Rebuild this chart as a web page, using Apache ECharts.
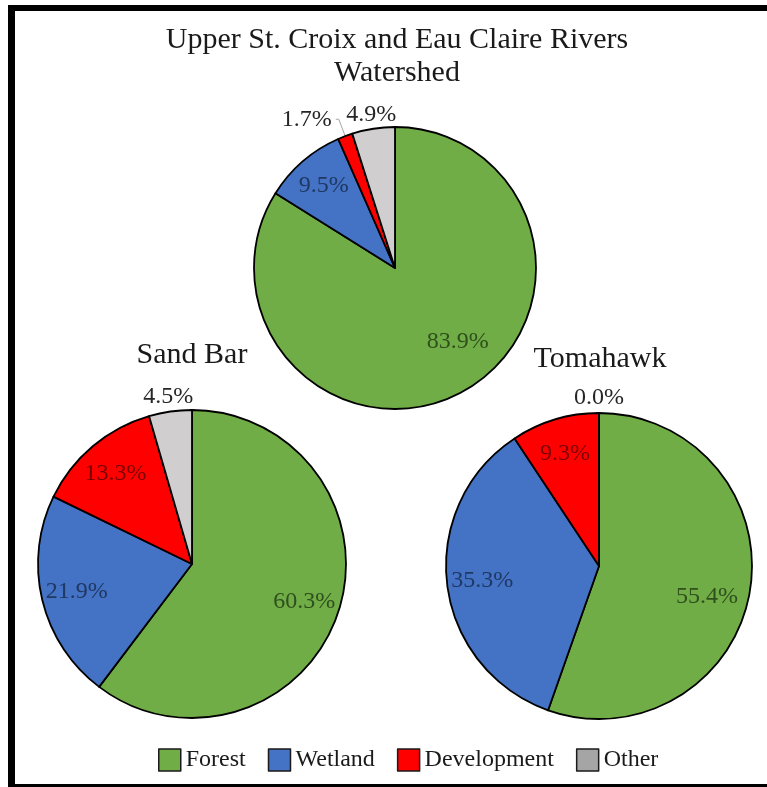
<!DOCTYPE html>
<html>
<head>
<meta charset="utf-8">
<script src="https://cdn.jsdelivr.net/npm/echarts@6/dist/echarts.min.js"></script>
<style>
html,body{margin:0;padding:0;background:#fff;overflow:hidden}
#chart{position:absolute;left:0;top:0;width:767px;height:787px}
#frame{position:absolute;left:8px;top:5px;width:800px;height:785px;box-sizing:border-box;border-style:solid;border-color:#000;border-width:6px 0 6px 7px;pointer-events:none}
</style>
</head>
<body>
<div id="chart"></div>
<div id="frame"></div>
<script>
// ---- data ----
const categories = ['Forest', 'Wetland', 'Development', 'Other'];
const pieTitles = ['Upper St. Croix and Eau Claire Rivers\nWatershed', 'Sand Bar', 'Tomahawk'];
const upperValues = [83.9, 9.5, 1.7, 4.9];
const sandBarValues = [60.3, 21.9, 13.3, 4.5];
const tomahawkValues = [55.4, 35.3, 9.3, 0.0];

// ---- styles ----
const sliceColors = ['#70ad47', '#4472c4', '#ff0000', '#d0cece'];
const legendColors = ['#70ad47', '#4472c4', '#ff0000', '#a5a5a5'];
const insideLabelColors = ['#2f4f1c', '#1f3864', '#7a0000', '#262626'];
const FONT = '"Liberation Serif", "Times New Roman", serif';

const layouts = [
  { values: upperValues, center: [395, 268], r: 141, titleX: 397, titleY: 24,
    placement: { Development: 'leader', Other: 'ring' }, nudge: { Forest: [10, -21] } },
  { values: sandBarValues, center: [192, 564], r: 154, titleX: 192, titleY: 339,
    placement: { Other: 'ring' }, nudge: {} },
  { values: tomahawkValues, center: [599, 566], r: 153, titleX: 600, titleY: 343,
    placement: { Other: 'ring' }, nudge: { Forest: [-8, 11] } }
];

const fmt = p => Number(p.value).toFixed(1) + '%';

const series = [];
const titles = [];
layouts.forEach((L, i) => {
  titles.push({
    text: pieTitles[i], left: L.titleX, top: L.titleY, textAlign: 'center', padding: 0,
    textStyle: { fontFamily: FONT, fontSize: 30, fontWeight: 'normal', color: '#1a1a1a', lineHeight: 33 }
  });
  // main pie (slices) + leader-line labels
  series.push({
    type: 'pie', name: pieTitles[i], center: L.center, radius: [0, L.r],
    startAngle: 90, clockwise: true, avoidLabelOverlap: false, silent: true,
    itemStyle: { borderColor: '#000', borderWidth: 1.8 },
    label: { position: 'outside', fontFamily: FONT, fontSize: 24, color: '#262626',
      formatter: fmt, distanceToLabelLine: 4 },
    labelLine: { length: 18, length2: 3, lineStyle: { color: '#a6a6a6', width: 1 } },
    emphasis: { disabled: true },
    data: categories.map((c, k) => ({
      name: c, value: L.values[k],
      itemStyle: { color: sliceColors[k] },
      label: { show: L.placement[c] === 'leader' },
      labelLine: { show: L.placement[c] === 'leader' }
    }))
  });
  // inside labels
  series.push({
    type: 'pie', center: L.center, radius: [L.r * 0.5, L.r],
    startAngle: 90, clockwise: true, avoidLabelOverlap: false, silent: true,
    itemStyle: { color: 'transparent', borderWidth: 0 },
    label: { position: 'inside', fontFamily: FONT, fontSize: 24, formatter: fmt },
    labelLine: { show: false },
    emphasis: { disabled: true },
    labelLayout: (params) => {
      const n = L.nudge[categories[params.dataIndex]];
      return n ? { dx: n[0], dy: n[1] } : {};
    },
    data: categories.map((c, k) => ({
      name: c, value: L.values[k],
      label: { show: !L.placement[c], color: insideLabelColors[k] }
    }))
  });
  // ring labels just outside the pie
  series.push({
    type: 'pie', center: L.center, radius: [L.r, L.r * 1.16],
    startAngle: 90, clockwise: true, avoidLabelOverlap: false, silent: true,
    itemStyle: { color: 'transparent', borderWidth: 0 },
    label: { position: 'inside', fontFamily: FONT, fontSize: 24, color: '#262626', formatter: fmt },
    labelLine: { show: false },
    emphasis: { disabled: true },
    data: categories.map((c, k) => ({
      name: c, value: L.values[k],
      label: { show: L.placement[c] === 'ring' }
    }))
  });
});

const chart = echarts.init(document.getElementById('chart'), null, { renderer: 'canvas' });
chart.setOption({
  backgroundColor: '#ffffff',
  animation: false,
  title: titles,
  legend: {
    left: 158, top: 748, orient: 'horizontal', padding: 0,
    icon: 'rect', itemWidth: 22, itemHeight: 22, itemGap: 22,
    itemStyle: { borderColor: '#1a1a1a', borderWidth: 1.5 },
    textStyle: { fontFamily: FONT, fontSize: 24, color: '#1a1a1a' },
    selectedMode: false,
    data: categories.map((c, k) => ({ name: c, itemStyle: { color: legendColors[k], borderColor: '#1a1a1a', borderWidth: 1.5 } }))
  },
  series: series
});
</script>
</body>
</html>
